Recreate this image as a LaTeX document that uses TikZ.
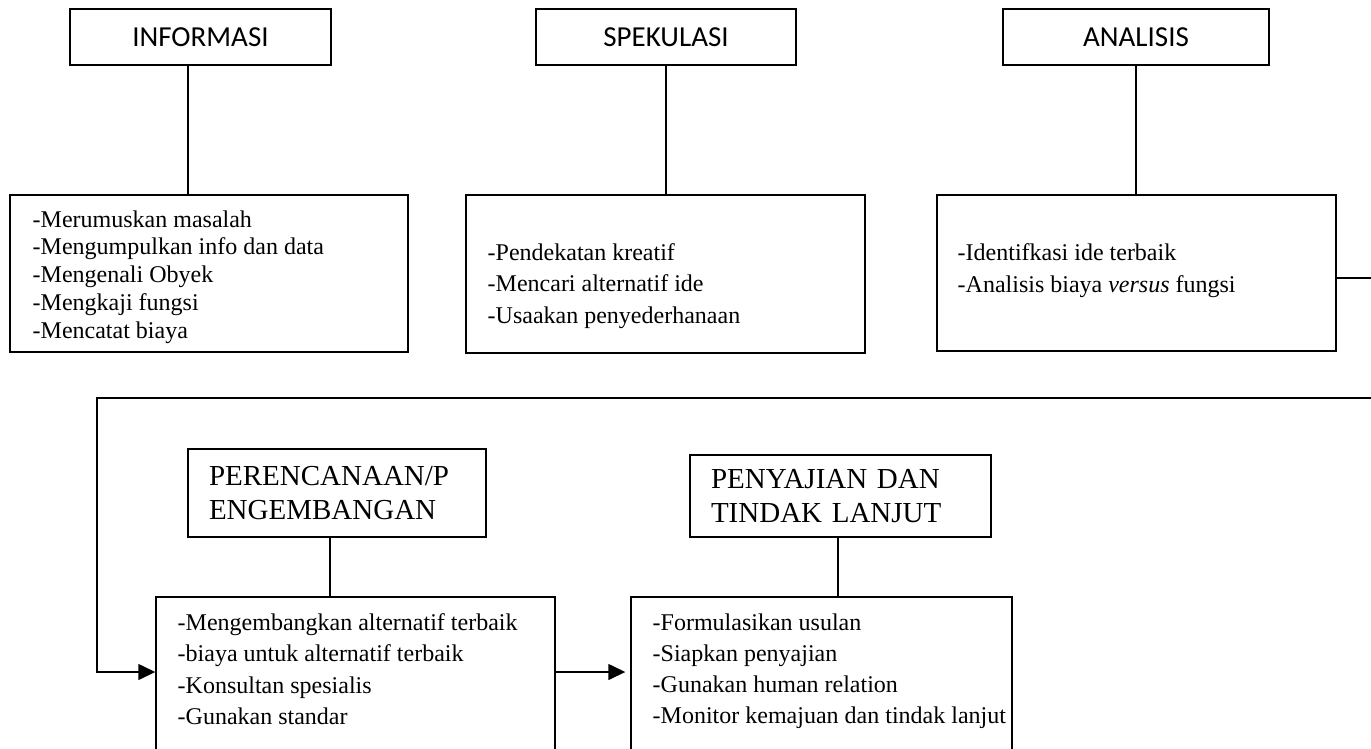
\documentclass[tikz,border=0pt]{standalone}
\usepackage{fontspec}
\setmainfont{Liberation Serif}
\newfontfamily\judulfont{Carlito}
\usetikzlibrary{arrows.meta}

\begin{document}
\begin{tikzpicture}[x=1pt,y=-1pt,line width=1.4pt,
        judul/.style={draw,inner sep=0pt,minimum height=56pt,font=\judulfont\fontsize{29}{34}\selectfont},
        judulb/.style={draw,inner ysep=0pt,inner xsep=21pt,align=left,font=\fontsize{29}{34.5}\selectfont},
        kotak/.style={draw,inner sep=0pt},
        isi/.style={anchor=base west,inner sep=0pt,font=\fontsize{24}{28}\selectfont},
        panah/.style={-{Triangle[length=17pt,width=16pt]}}]

        % batas gambar
        \useasboundingbox (0,0) rectangle (1371,748);
        \clip (0,0) rectangle (1371,748);

        % judul atas
        \node[judul,minimum width=261pt] (infojudul) at (200.5,37) {INFORMASI};
        \node[judul,minimum width=260pt] (spekjudul) at (666,37) {SPEKULASI};
        \node[judul,minimum width=266pt] (analjudul) at (1136,37) {ANALISIS};

        % kotak isi atas
        \node[kotak,minimum width=398pt,minimum height=157pt] (infoisi) at (209,273.5) {};
        \node[kotak,minimum width=399pt,minimum height=158pt] (spekisi) at (665.5,274) {};
        \node[kotak,minimum width=399pt,minimum height=156pt] (analisi) at (1136.5,273) {};

        \foreach \t [count=\i from 0] in {{-Merumuskan masalah},{-Mengumpulkan info dan data},
            {-Mengenali Obyek},{-Mengkaji fungsi},{-Mencatat biaya}}
        \node[isi] (infot\i) at (32,{227+27.75*\i}) {\t};
        \foreach \t [count=\i from 0] in {{-Pendekatan kreatif},{-Mencari alternatif ide},
            {-Usaakan penyederhanaan}}
        \node[isi] (spekt\i) at (487,{260+31.5*\i}) {\t};
        \foreach \t [count=\i from 0] in {{-Identifkasi ide terbaik},{-Analisis biaya \textit{versus} fungsi}}
        \node[isi] (analt\i) at (957,{260+32*\i}) {\t};

        % judul bawah
        \node[judulb,text width=256pt,minimum height=88pt] (rencanajudul) at (337,493)
            {PERENCANAAN/P\\ENGEMBANGAN};
        \node[judulb,text width=259pt,minimum height=82pt] (sajijudul) at (840.5,496)
            {PENYAJIAN DAN\\TINDAK LANJUT};

        % kotak isi bawah
        \node[kotak,minimum width=399pt,minimum height=163pt] (rencanaisi) at (355.5,678.5) {};
        \node[kotak,minimum width=381pt,minimum height=163pt] (sajiisi) at (821.5,678.5) {};

        \foreach \t [count=\i from 0] in {{-Mengembangkan alternatif terbaik},{-biaya untuk alternatif terbaik},
            {-Konsultan spesialis},{-Gunakan standar}}
        \node[isi] (rencanat\i) at (177,{630+31.5*\i}) {\t};
        \foreach \t [count=\i from 0] in {{-Formulasikan usulan},{-Siapkan penyajian},
            {-Gunakan human relation},{-Monitor kemajuan dan tindak lanjut}}
        \node[isi] (sajit\i) at (652,{630+31*\i}) {\t};

        % garis penghubung
        \coordinate (infoc) at ([xshift=-12.5pt]infojudul.south);
        \coordinate (rencanac) at ([xshift=-7pt]rencanajudul.south);
        \coordinate (sajic) at ([xshift=-2.5pt]sajijudul.south);
        \draw (infoc) -- (infoc |- infoisi.north);
        \draw (spekjudul.south) -- (spekjudul.south |- spekisi.north);
        \draw (analjudul.south) -- (analjudul.south |- analisi.north);
        \draw (rencanac) -- (rencanac |- rencanaisi.north);
        \draw (sajic) -- (sajic |- sajiisi.north);

        % panah kembali ke bawah
        \coordinate (kanan1) at (1371,278);
        \coordinate (kanan2) at (1371,398);
        \coordinate (kiri) at (97,398);
        \draw (analisi.east |- kanan1) -- (kanan1);
        \draw[panah] (kanan2) -- (kiri) |- ([yshift=6.5pt]rencanaisi.west);
        \draw[panah,shorten >=5pt] ([yshift=6.5pt]rencanaisi.east) -- ([yshift=6.5pt]sajiisi.west);
    \end{tikzpicture}
\end{document}
